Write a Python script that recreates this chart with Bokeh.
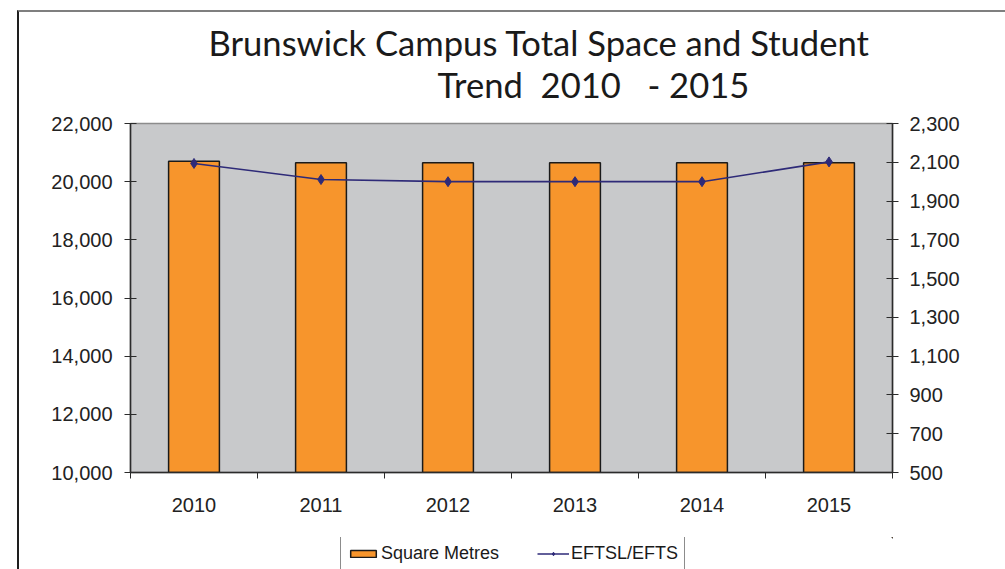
from bokeh.plotting import figure
from bokeh.layouts import column
from bokeh.models import (Range1d, LinearAxis, FixedTicker, NumeralTickFormatter,
                          Legend, LegendItem, Label)
from bokeh.embed import file_html
from bokeh.resources import INLINE
import numpy as np

# ---- data ----
years = ["2010", "2011", "2012", "2013", "2014", "2015"]
square_metres = [20700, 20650, 20650, 20650, 20650, 20650]
eftsl = [2094, 2011, 2000, 2000, 2000, 2102]
left_ticks = [10000, 12000, 14000, 16000, 18000, 20000, 22000]
right_ticks = [500, 700, 900, 1100, 1300, 1500, 1700, 1900, 2100, 2300]
title_line1 = "Brunswick Campus Total Space and Student"
title_line2 = "Trend \u00a02010 \u00a0\u00a0- 2015"
legend_labels = ["Square Metres", "EFTSL/EFTS"]

centers = list(np.arange(len(years)) + 0.5)
bounds = list(np.arange(len(years) + 1).astype(float))

ORANGE = "#F7952C"
NAVY = "#2E2A78"
BG = "#C8C9CB"
AXIS = "#2b2b2b"
FONT = "Liberation Sans"
W = 986
BL, BR = 111, 113

bar_style = dict(fill_color=ORANGE, line_color="#1a1a1a", line_width=1.5)
line_style = dict(line_color=NAVY, line_width=1.6)
pt_style = dict(marker="diamond", size=10, fill_color=NAVY, line_color=NAVY)

# ---- title strip ----
tf = figure(width=W, height=99, output_backend="svg", toolbar_location=None,
            x_range=Range1d(0, 1), y_range=Range1d(0, 1),
            x_axis_location=None, y_axis_location=None,
            min_border_left=BL, min_border_right=BR, min_border_top=0, min_border_bottom=0)
tf.outline_line_color = None
tf.background_fill_color = "white"
tf.xgrid.visible = False
tf.ygrid.visible = False
for txt, x, y in [(title_line1, 78, 69), (title_line2, 307, 27)]:
    tf.add_layout(Label(x=x, y=y, x_units="screen", y_units="screen", text=txt,
                        text_font="Lato", text_font_size="34.6px", text_color="#1a1a1a",
                        text_align="left", text_baseline="alphabetic"))

# ---- main chart ----
p = figure(width=W, height=419, output_backend="svg", toolbar_location=None,
           x_range=Range1d(0, len(years)), y_range=Range1d(left_ticks[0], left_ticks[-1]),
           min_border_left=BL, min_border_right=BR, min_border_top=12, min_border_bottom=58)
p.extra_y_ranges = {"right": Range1d(right_ticks[0], right_ticks[-1])}

p.background_fill_color = BG
p.border_fill_color = "white"
p.outline_line_color = "#8c8c8c"
p.outline_line_width = 1.5
p.xgrid.visible = False
p.ygrid.visible = False

bars = p.vbar(x=centers, top=square_metres, bottom=left_ticks[0], width=0.4, **bar_style)
line = p.line(x=centers, y=eftsl, y_range_name="right", **line_style)
pts = p.scatter(x=centers, y=eftsl, y_range_name="right", **pt_style)

xa = p.xaxis[0]
xa.ticker = FixedTicker(ticks=centers, minor_ticks=bounds)
xa.major_label_overrides = {c: y for c, y in zip(centers, years)}
xa.major_tick_line_color = None
xa.major_tick_out = 0
xa.major_tick_in = 0
xa.minor_tick_out = 6
xa.minor_tick_in = 0
xa.minor_tick_line_color = AXIS
xa.major_label_standoff = 19

ya = p.yaxis[0]
ya.ticker = FixedTicker(ticks=left_ticks)
ya.formatter = NumeralTickFormatter(format="0,0")
ya.major_label_standoff = 12

ra = LinearAxis(y_range_name="right", ticker=FixedTicker(ticks=right_ticks),
                formatter=NumeralTickFormatter(format="0,0"))
ra.major_label_standoff = 11
p.add_layout(ra, "right")

for ax in [xa, ya, ra]:
    ax.axis_line_color = AXIS
    ax.axis_line_width = 1.5
    ax.major_label_text_font = FONT
    ax.major_label_text_font_size = "20px"
    ax.major_label_text_color = "#222222"
for ax in [ya, ra]:
    ax.major_tick_line_color = AXIS
    ax.major_tick_line_width = 1.2
    ax.major_tick_in = 6
    ax.major_tick_out = 6
    ax.minor_tick_line_color = None

# ---- legend strip (legend-only renderers, their data lie outside this strip's ranges) ----
lg = figure(width=W, height=39, output_backend="svg", toolbar_location=None,
            x_range=Range1d(-2, -1), y_range=Range1d(-60000, -59999),
            x_axis_location=None, y_axis_location=None,
            min_border_left=BL, min_border_right=BR, min_border_top=7, min_border_bottom=0)
lg.outline_line_color = None
lg.background_fill_color = "white"
lg.xgrid.visible = False
lg.ygrid.visible = False
lb = lg.vbar(x=centers, top=square_metres, bottom=left_ticks[0], width=0.4, **bar_style)
ll = lg.line(x=centers, y=eftsl, **line_style)
lp = lg.scatter(x=centers, y=eftsl, **dict(pt_style, size=7))

legend = Legend(items=[LegendItem(label=legend_labels[0], renderers=[lb]),
                       LegendItem(label=legend_labels[1], renderers=[ll, lp])],
                orientation="horizontal", location=(210, -2))
legend.label_text_font = FONT
legend.label_text_font_size = "18px"
legend.label_text_color = "#1a1a1a"
legend.glyph_width = 32
legend.glyph_height = 9
legend.label_standoff = 2
legend.spacing = 38
legend.padding = 6
legend.margin = 0
legend.label_height = 19
legend.border_line_color = "#1a1a1a"
legend.border_line_width = 1
legend.background_fill_color = "white"
legend.background_fill_alpha = 1
lg.add_layout(legend)

layout = column(tf, p, lg, styles={"margin-left": "17px", "margin-top": "10px",
                                   "border-left": "2px solid #1e1e1e",
                                   "border-top": "2px solid #7f7f7f"})

open("out.html", "w").write(file_html(layout, INLINE))
